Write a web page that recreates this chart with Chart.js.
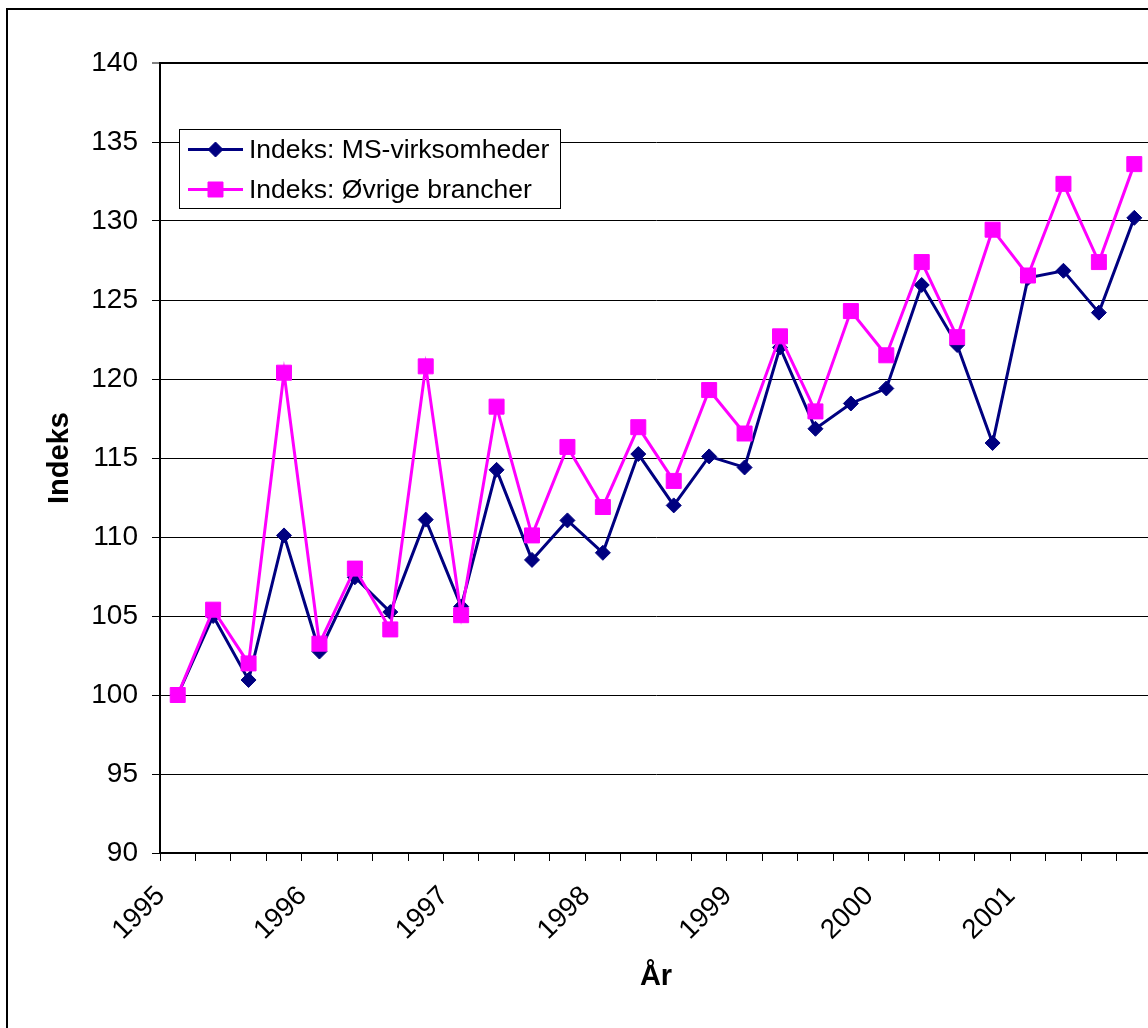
<!DOCTYPE html>
<html>
<head>
<meta charset="utf-8">
<script src="https://cdn.jsdelivr.net/npm/chart.js"></script>
<style>
  html, body { margin: 0; padding: 0; overflow: hidden; background: #fff; }
  #frame { position: absolute; left: 6px; top: 8px; width: 1400px; height: 1200px; border: 2px solid #000; }
  #wrap { position: absolute; left: 0; top: 0; width: 1177px; height: 1028px; }
</style>
</head>
<body>
<div id="frame"></div>
<div id="wrap"><canvas id="c"></canvas></div>
<script>
// Quarterly categories, 1995 K1 .. 2001 K4
const categories = [
  '1995 K1','1995 K2','1995 K3','1995 K4',
  '1996 K1','1996 K2','1996 K3','1996 K4',
  '1997 K1','1997 K2','1997 K3','1997 K4',
  '1998 K1','1998 K2','1998 K3','1998 K4',
  '1999 K1','1999 K2','1999 K3','1999 K4',
  '2000 K1','2000 K2','2000 K3','2000 K4',
  '2001 K1','2001 K2','2001 K3','2001 K4'
];
// Year tick labels shown at each first quarter
const yearLabels = ['1995','1996','1997','1998','1999','2000','2001'];

const msValues = [
  100.0, 105.0, 100.95, 110.1,
  102.75, 107.45, 105.25, 111.1,
  105.6, 114.25, 108.55, 111.05,
  109.0, 115.25, 112.0, 115.1,
  114.4, 122.0, 116.85, 118.45,
  119.4, 125.95, 122.15, 115.95,
  126.4, 126.85, 124.2, 130.2
];
const otherValues = [
  100.0, 105.4, 102.0, 120.4,
  103.25, 108.0, 104.15, 120.8,
  105.05, 118.25, 110.1, 115.7,
  111.9, 116.95, 113.55, 119.3,
  116.55, 122.7, 117.95, 124.3,
  121.5, 127.4, 122.65, 129.45,
  126.55, 132.35, 127.4, 133.6
];
const seriesNames = ['Indeks: MS-virksomheder', 'Indeks: Øvrige brancher'];
const yTicks = { min: 90, max: 140, step: 5 };

const FONT = '"Liberation Sans", Arial, sans-serif';

const boxLegend = {
  id: 'boxLegend',
  afterDraw(chart) {
    const ctx = chart.ctx;
    const left = 179.5, top = 129.5, width = 381, height = 79;
    ctx.save();
    ctx.fillStyle = '#ffffff';
    ctx.fillRect(left, top, width, height);
    ctx.strokeStyle = '#000000';
    ctx.lineWidth = 1;
    ctx.strokeRect(left, top, width, height);
    const rows = [149.5, 189.5];
    chart.data.datasets.forEach((ds, i) => {
      const y = rows[i];
      const x1 = 188, x2 = 243, xm = 215.5;
      ctx.strokeStyle = ds.borderColor;
      ctx.lineWidth = ds.borderWidth;
      ctx.beginPath();
      ctx.moveTo(x1, y);
      ctx.lineTo(x2, y);
      ctx.stroke();
      ctx.fillStyle = ds.pointBackgroundColor;
      ctx.strokeStyle = ds.pointBorderColor;
      ctx.lineWidth = 1;
      ctx.beginPath();
      if (ds.pointStyle === 'rectRot') {
        const r = ds.pointRadius;
        ctx.moveTo(xm - r, y); ctx.lineTo(xm, y - r); ctx.lineTo(xm + r, y); ctx.lineTo(xm, y + r);
        ctx.closePath();
      } else {
        const s = ds.pointRadius * Math.SQRT1_2;
        ctx.rect(xm - s, y - s, 2 * s, 2 * s);
      }
      ctx.fill();
      ctx.stroke();
      ctx.fillStyle = '#000000';
      ctx.font = '26.5px ' + FONT;
      ctx.textBaseline = 'middle';
      ctx.textAlign = 'left';
      ctx.fillText(ds.label, 249, y + 1);
    });
    ctx.restore();
  }
};

new Chart(document.getElementById('c'), {
  type: 'line',
  data: {
    labels: categories,
    datasets: [
      {
        label: seriesNames[0],
        data: msValues,
        borderColor: '#000080',
        backgroundColor: '#000080',
        pointBackgroundColor: '#000080',
        pointBorderColor: '#000080',
        borderWidth: 3,
        pointStyle: 'rectRot',
        pointRadius: 7.5,
        pointBorderWidth: 1,
        tension: 0,
        order: 1
      },
      {
        label: seriesNames[1],
        data: otherValues,
        borderColor: '#FF00FF',
        backgroundColor: '#FF00FF',
        pointBackgroundColor: '#FF00FF',
        pointBorderColor: '#FF00FF',
        borderWidth: 3,
        pointStyle: 'rect',
        pointRadius: 10.6,
        pointBorderWidth: 1,
        tension: 0,
        order: 0
      }
    ]
  },
  options: {
    responsive: true,
    maintainAspectRatio: false,
    animation: false,
    events: [],
    layout: { padding: { top: 63, right: 20, bottom: 0, left: 0 } },
    plugins: {
      legend: { display: false },
      tooltip: { enabled: false },
      title: { display: false }
    },
    scales: {
      x: {
        type: 'category',
        offset: true,
        afterFit(scale) { scale.height = 175; },
        grid: {
          offset: true,
          drawOnChartArea: false,
          drawTicks: true,
          tickLength: 8,
          tickWidth: 1,
          tickColor: '#000000'
        },
        border: { display: true, color: '#000000', width: 2 },
        ticks: {
          autoSkip: false,
          minRotation: 45,
          maxRotation: 45,
          padding: 19,
          labelOffset: -17,
          color: '#000000',
          font: { family: FONT, size: 27.5 },
          callback: function(value, index) {
            return index % 4 === 0 ? yearLabels[index / 4] : '';
          }
        },
        title: {
          display: true,
          text: 'År',
          color: '#000000',
          font: { family: FONT, size: 29, weight: 'bold' },
          padding: { top: 0, bottom: 34 }
        }
      },
      y: {
        min: yTicks.min,
        max: yTicks.max,
        afterFit(scale) { scale.width = 160; },
        grid: {
          color: '#000000',
          lineWidth: (c) => (c.tick && c.tick.value === yTicks.max ? 2 : 1),
          drawTicks: true,
          tickLength: 8,
          tickWidth: 1,
          tickColor: '#000000'
        },
        border: { display: true, color: '#000000', width: 2 },
        ticks: {
          stepSize: yTicks.step,
          padding: 14,
          color: '#000000',
          font: { family: FONT, size: 28 }
        },
        title: {
          display: true,
          text: 'Indeks',
          color: '#000000',
          font: { family: FONT, size: 29, weight: 'bold' },
          padding: { top: 43, bottom: 0 }
        }
      }
    }
  },
  plugins: [boxLegend]
});
</script>
</body>
</html>
